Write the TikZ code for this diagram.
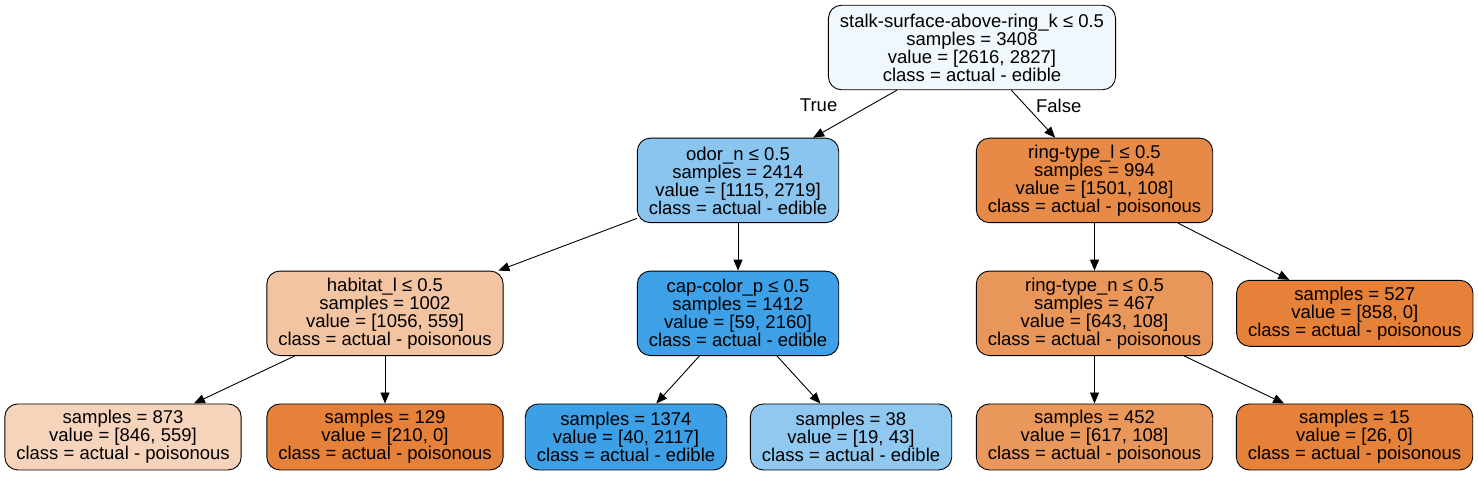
\documentclass[tikz,border=0pt]{standalone}
\usepackage{fontspec}
\setmainfont{Liberation Sans}
\usetikzlibrary{positioning,arrows.meta}

\definecolor{rootfill}{RGB}{240,248,253}
\definecolor{odorfill}{RGB}{138,197,240}
\definecolor{ringlfill}{RGB}{231,138,71}
\definecolor{habitatfill}{RGB}{243,196,162}
\definecolor{capfill}{RGB}{62,160,230}
\definecolor{ringnfill}{RGB}{233,150,90}
\definecolor{pureorange}{RGB}{229,129,57}
\definecolor{lightorange}{RGB}{246,212,188}
\definecolor{deepblue}{RGB}{61,159,229}
\definecolor{paleblue}{RGB}{144,200,240}
\definecolor{midorange}{RGB}{234,151,92}

\begin{document}
\begin{tikzpicture}[x=1pt, y=1pt, node distance=47.5pt, auto, >={Triangle[length=11pt,width=9pt]}]
	\tikzstyle{split} = [draw, line width=0.9pt, rounded corners=13pt, align=center, font=\fontsize{18.5}{18}\selectfont, inner xsep=11.5pt, inner ysep=3pt, minimum height=84.5pt]
	\tikzstyle{leaf} = [split, minimum height=66pt]
	\tikzstyle{lbl} = [font=\fontsize{18.5}{18}\selectfont]
	\tikzstyle{edge} = [->, line width=0.9pt]
	
	\useasboundingbox (0,0) rectangle (1478,-477);
	
	\node[split, fill=rootfill] at (972,-47.5) (root) {stalk-surface-above-ring\_k ≤ 0.5\\samples = 3408\\value = [2616, 2827]\\class = actual - edible};
	
	\node[split, fill=odorfill, below=of root, xshift=-234pt] (odor) {odor\_n ≤ 0.5\\samples = 2414\\value = [1115, 2719]\\class = actual - edible};
	\node[split, fill=ringlfill, below=of root, xshift=122.5pt] (ringl) {ring-type\_l ≤ 0.5\\samples = 994\\value = [1501, 108]\\class = actual - poisonous};
	
	\node[split, fill=habitatfill, below=of odor, xshift=-353pt] (habitat) {habitat\_l ≤ 0.5\\samples = 1002\\value = [1056, 559]\\class = actual - poisonous};
	\node[split, fill=capfill, below=of odor] (cap) {cap-color\_p ≤ 0.5\\samples = 1412\\value = [59, 2160]\\class = actual - edible};
	\node[split, fill=ringnfill, below=of ringl] (ringn) {ring-type\_n ≤ 0.5\\samples = 467\\value = [643, 108]\\class = actual - poisonous};
	\node[leaf, fill=pureorange, right=23pt of ringn] (leafa) {samples = 527\\value = [858, 0]\\class = actual - poisonous};
	
	\node[leaf, fill=lightorange, below=of habitat, xshift=-262pt] (leafb) {samples = 873\\value = [846, 559]\\class = actual - poisonous};
	\node[leaf, fill=pureorange, below=of habitat] (leafc) {samples = 129\\value = [210, 0]\\class = actual - poisonous};
	\node[leaf, fill=deepblue, below=of cap, xshift=-112pt] (leafd) {samples = 1374\\value = [40, 2117]\\class = actual - edible};
	\node[leaf, fill=paleblue, below=of cap, xshift=113pt] (leafe) {samples = 38\\value = [19, 43]\\class = actual - edible};
	\node[leaf, fill=midorange, below=of ringn] (leaff) {samples = 452\\value = [617, 108]\\class = actual - poisonous};
	\node[leaf, fill=pureorange, below=of ringn, xshift=260pt] (leafg) {samples = 15\\value = [26, 0]\\class = actual - poisonous};
	
	\draw[edge] (root) -- node[lbl, pos=0.32, left=29pt]{True} (odor);
	\draw[edge] (root) -- node[lbl, pos=0.32, right=7pt]{False} (ringl);
	\draw[edge] (odor) -- (habitat);
	\draw[edge] (odor) -- (cap);
	\draw[edge] (ringl) -- (ringn);
	\draw[edge] (ringl) -- (leafa);
	\draw[edge] (habitat) -- (leafb);
	\draw[edge] (habitat) -- (leafc);
	\draw[edge] (cap) -- (leafd);
	\draw[edge] (cap) -- (leafe);
	\draw[edge] (ringn) -- (leaff);
	\draw[edge] (ringn) -- (leafg);
\end{tikzpicture}
\end{document}
